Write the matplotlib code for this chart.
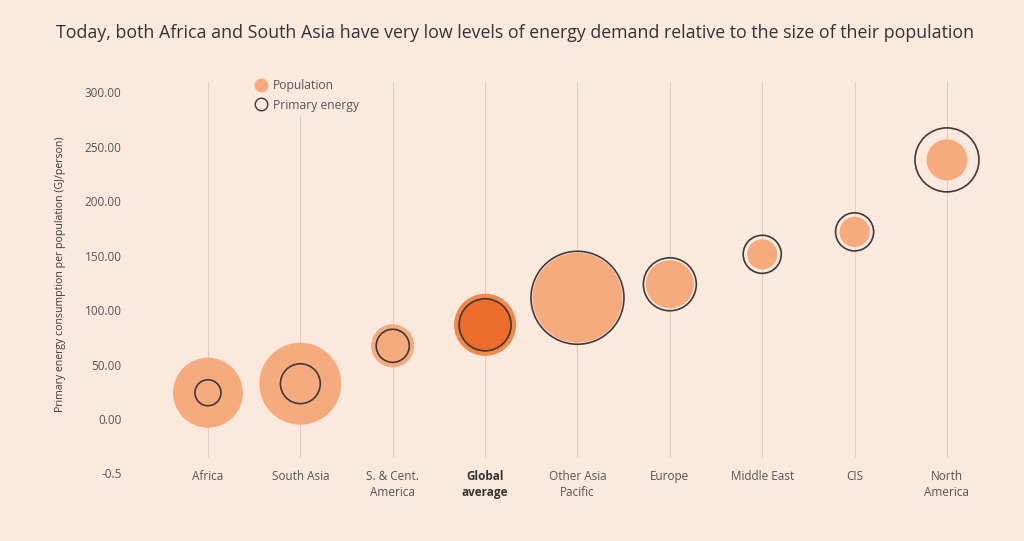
import numpy as np
import matplotlib
matplotlib.use('Agg')
import matplotlib.pyplot as plt
from matplotlib.lines import Line2D

plt.rcParams['font.family'] = ['Open Sans', 'DejaVu Sans']

# Data
regions = ['Africa', 'South Asia', 'S. & Cent.\nAmerica', 'Global\naverage', 'Other Asia\nPacific',
           'Europe', 'Middle East', 'CIS', 'North\nAmerica']
energy_per_person = [24.1, 32.4, 67.2, 86.5, 111.3, 123.7, 151.2, 171.8, 237.9]  # GJ/person
population = [1.40, 1.92, 0.53, 0.96, 2.31, 0.66, 0.26, 0.26, 0.48]  # bubble size (bn people)
primary_energy = [34, 80, 55, 136, 435, 141, 73, 73, 206]  # bubble size (EJ)
y_ticks = [-50, 0, 50, 100, 150, 200, 250, 300]
y_tick_labels = ['-0.5', '0.00', '50.00', '100.00', '150.00', '200.00', '250.00', '300.00']
GLOBAL_IDX = 3

# Style
BG = '#fce9de'
POP_COLOR = '#f6ab7e'
GLOBAL_COLOR = '#ef6d2a'
GLOBAL_EDGE = '#f3884c'
RING_COLOR = '#3f3a38'
GRID_COLOR = '#ddcfc6'
TEXT_COLOR = '#555555'
POP_SCALE = 1814   # points^2 per bn
ENERGY_SCALE = 10.3  # points^2 per EJ

fig = plt.figure(figsize=(10.24, 5.41), dpi=100, facecolor=BG)
ax = fig.add_axes([130 / 1024, 61 / 541, 870 / 1024, 420 / 541])
ax.set_facecolor(BG)

x = np.arange(len(regions))
ax.vlines(x, -34.6, 310.4, color=GRID_COLOR, linewidth=0.8, zorder=0)

pop_sizes = np.array(population) * POP_SCALE
energy_sizes = np.array(primary_energy) * ENERGY_SCALE
pop_colors = [GLOBAL_COLOR if i == GLOBAL_IDX else POP_COLOR for i in x]
pop_edges = [GLOBAL_EDGE if i == GLOBAL_IDX else POP_COLOR for i in x]
ax.scatter(x, energy_per_person, s=pop_sizes, c=pop_colors, edgecolors=pop_edges,
           linewidths=[3 if i == GLOBAL_IDX else 0 for i in x], zorder=2)
ax.scatter(x, energy_per_person, s=energy_sizes, facecolors='none', edgecolors=RING_COLOR,
           linewidths=1.2, zorder=3)

ax.set_xlim(-0.844, 8.574)
ax.set_ylim(-56, 329.6)
ax.set_yticks(y_ticks, y_tick_labels)
ax.set_xticks(x, regions)
ax.tick_params(length=0, labelsize=8.5, labelcolor=TEXT_COLOR)
ax.tick_params(axis='y', pad=6)
ax.tick_params(axis='x', pad=-7.5)
for lbl in ax.get_xticklabels():
    lbl.set_linespacing(1.3)
ax.get_xticklabels()[GLOBAL_IDX].set_fontweight('bold')
ax.get_xticklabels()[GLOBAL_IDX].set_color('#333333')
for s in ax.spines.values():
    s.set_visible(False)

handles = [
    Line2D([], [], marker='o', linestyle='none', markersize=9, markerfacecolor=POP_COLOR,
           markeredgecolor=POP_COLOR, label='Population'),
    Line2D([], [], marker='o', linestyle='none', markersize=9, markerfacecolor='none',
           markeredgecolor=RING_COLOR, markeredgewidth=1, label='Primary energy'),
]
leg = ax.legend(handles=handles, loc='upper left', bbox_to_anchor=((252 - 130) / 870, (481 - 77) / 420),
                frameon=True, facecolor=BG, edgecolor='none', framealpha=1, fontsize=8.7,
                handletextpad=0.5, borderpad=0.25, labelspacing=0.55, handlelength=1.0,
                borderaxespad=0)
for t in leg.get_texts():
    t.set_color(TEXT_COLOR)
leg.set_zorder(5)

fig.text(60 / 1024, 1 - 274 / 541, 'Primary energy consumption per population (GJ/person)',
         rotation=90, ha='center', va='center', fontsize=7.6, color='#3a3a3a')
fig.text(515 / 1024, 1 - 33 / 541,
         'Today, both Africa and South Asia have very low levels of energy demand relative to the size of their population',
         ha='center', va='center', fontsize=12.75, color='#333333')

fig.savefig('out.png', dpi=100, facecolor=BG)
